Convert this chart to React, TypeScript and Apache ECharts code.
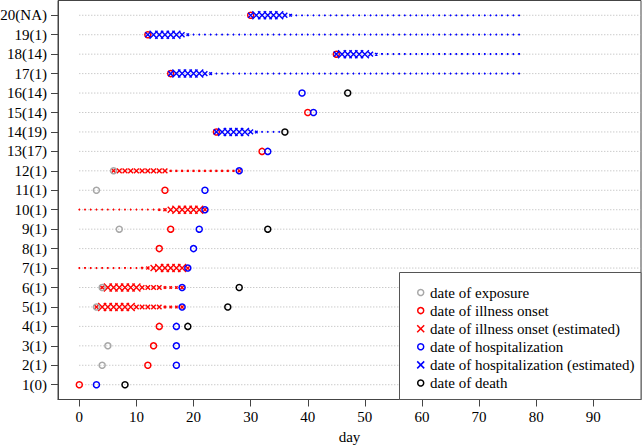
import React, { useEffect, useRef } from "react";
import * as echarts from "echarts";

// ---------- data ----------
const rowLabels = [
  "1(0)", "2(1)", "3(1)", "4(1)", "5(1)", "6(1)", "7(1)", "8(1)", "9(1)", "10(1)",
  "11(1)", "12(1)", "13(17)", "14(19)", "15(14)", "16(14)", "17(1)", "18(14)", "19(1)", "20(NA)",
];
const rowIds = [1, 2, 3, 4, 5, 6, 7, 8, 9, 10, 11, 12, 13, 14, 15, 16, 17, 18, 19, 20];
const xTicks = [0, 10, 20, 30, 40, 50, 60, 70, 80, 90];

// [day, row]
const exposureDays = [[4, 2], [5, 3], [3, 5], [4, 6], [7, 9], [3, 11], [6, 12]];
const onsetDays = [
  [0, 1], [12, 2], [13, 3], [14, 4], [14, 8], [16, 9], [15, 11], [32, 13], [24, 14],
  [40, 15], [16, 17], [45, 18], [12, 19], [30, 20],
];
const hospDays = [
  [3, 1], [17, 2], [17, 3], [17, 4], [18, 5], [18, 6], [19, 7], [20, 8], [21, 9],
  [22, 10], [22, 11], [28, 12], [33, 13], [41, 15], [39, 16],
];
const deathDays = [[8, 1], [19, 4], [26, 5], [28, 6], [33, 9], [36, 14], [47, 16]];

// estimated dates: row, first day, run-length list of [relative weight, number of days]
const onsetEstimated = [
  { row: 5, first: 3, runs: [[0.5, 1], [1, 6], [0.5, 5], [0.2, 3], [0.35, 1]] },
  { row: 6, first: 4, runs: [[0.5, 1], [1, 6], [0.5, 4], [0.2, 3], [0.35, 1]] },
  { row: 7, first: 0, runs: [[0.03, 11], [0.15, 1], [0.3, 1], [0.7, 1], [1, 5], [0.4, 1]] },
  { row: 10, first: 0, runs: [[0.03, 14], [0.15, 1], [0.3, 1], [0.7, 1], [1, 5], [0.4, 1]] },
  { row: 12, first: 6, runs: [[0.5, 1], [0.55, 9], [0.13, 12], [0.3, 1]] },
];
const hospEstimated = [
  { row: 14, first: 24, runs: [[0.6, 1], [1, 5], [0.55, 1], [0.22, 1], [0.03, 4]] },
  { row: 17, first: 16, runs: [[0.6, 1], [1, 5], [0.55, 1], [0.22, 1], [0.03, 54]] },
  { row: 18, first: 45, runs: [[0.6, 1], [1, 5], [0.55, 1], [0.22, 1], [0.03, 25]] },
  { row: 19, first: 12, runs: [[0.6, 1], [1, 5], [0.55, 1], [0.22, 1], [0.03, 58]] },
  { row: 20, first: 30, runs: [[0.6, 1], [1, 5], [0.55, 1], [0.22, 1], [0.03, 40]] },
];

const legendItems = [
  { label: "date of exposure", kind: "circle", color: "#a8a8a8" },
  { label: "date of illness onset", kind: "circle", color: "#ff0000" },
  { label: "date of illness onset (estimated)", kind: "x", color: "#ff0000" },
  { label: "date of hospitalization", kind: "circle", color: "#0000ff" },
  { label: "date of hospitalization (estimated)", kind: "x", color: "#0000ff" },
  { label: "date of death", kind: "circle", color: "#000000" },
];

// ---------- helpers ----------
const FONT = "Liberation Serif";
const X_PATH = "path://M0,0L10,10M10,0L0,10";
const X_MIN = -3.73;
const X_MAX = 98.35;
const AXIS_GREY = "#444444";

function expand(list: { row: number; first: number; runs: number[][] }[]) {
  const out: number[][] = [];
  list.forEach((e) => {
    let d = e.first;
    e.runs.forEach(([w, n]) => {
      for (let i = 0; i < n; i++) out.push([d++, e.row, w]);
    });
  });
  return out;
}

const circleSeries = (name: string, data: number[][], color: string) => ({
  name,
  type: "scatter",
  data,
  symbol: "circle",
  symbolSize: 6,
  itemStyle: { color: "rgba(0,0,0,0)", borderColor: color, borderWidth: 1.5, opacity: 1 },
  silent: true,
});

const xSeries = (name: string, data: number[][], color: string) => ({
  name,
  type: "scatter",
  data,
  symbol: X_PATH,
  symbolSize: (v: number[]) => 1 + 7 * v[2],
  itemStyle: { color: "rgba(0,0,0,0)", borderColor: color, borderWidth: 1.4, opacity: 1 },
  silent: true,
});

function buildLegend() {
  const left = 399.5;
  const top = 272.5;
  const els: any[] = [
    {
      type: "rect",
      shape: { x: left, y: top, width: 241.5, height: 127 },
      style: { fill: "#ffffff", stroke: "#555555", lineWidth: 1 },
      z: 100,
    },
  ];
  legendItems.forEach((it, i) => {
    const cy = 292.5 + i * 18.1;
    const cx = 420.7;
    if (it.kind === "circle") {
      els.push({
        type: "circle",
        shape: { cx, cy, r: 3 },
        style: { fill: "none", stroke: it.color, lineWidth: 1.5 },
        z: 101,
      });
    } else {
      els.push({
        type: "line",
        shape: { x1: cx - 3.5, y1: cy - 3.5, x2: cx + 3.5, y2: cy + 3.5 },
        style: { stroke: it.color, lineWidth: 1.5 },
        z: 101,
      });
      els.push({
        type: "line",
        shape: { x1: cx - 3.5, y1: cy + 3.5, x2: cx + 3.5, y2: cy - 3.5 },
        style: { stroke: it.color, lineWidth: 1.5 },
        z: 101,
      });
    }
    els.push({
      type: "text",
      x: 430,
      y: cy,
      style: {
        text: it.label,
        fill: "#000000",
        fontSize: 15,
        fontFamily: FONT,
        verticalAlign: "middle",
        align: "left",
      },
      z: 101,
    });
  });
  return els;
}

export default function App() {
  const ref = useRef<HTMLDivElement>(null);

  useEffect(() => {
    if (!ref.current) return;
    const chart = echarts.init(ref.current, null, { renderer: "svg" });
    const option: any = {
      animation: false,
      backgroundColor: "#ffffff",
      grid: {
        left: 58,
        right: 3,
        top: 0.5,
        bottom: 45.5,
        outerBoundsMode: "none",
        containLabel: false,
        show: true,
        borderColor: AXIS_GREY,
        borderWidth: 1,
        backgroundColor: "rgba(0,0,0,0)",
      },
      xAxis: {
        type: "value",
        min: X_MIN,
        max: X_MAX,
        axisLine: { show: true, onZero: false, lineStyle: { color: AXIS_GREY, width: 1 } },
        splitLine: { show: false },
        axisTick: { show: true, length: 7, lineStyle: { color: AXIS_GREY, width: 1 }, customValues: xTicks },
        axisLabel: {
          customValues: xTicks,
          fontSize: 15,
          fontFamily: FONT,
          color: "#000000",
          margin: 10,
        },
        name: "day",
        nameLocation: "middle",
        nameGap: 29,
        nameTextStyle: { fontSize: 15, fontFamily: FONT, color: "#000000" },
      },
      yAxis: {
        type: "value",
        min: 0.24,
        max: 20.76,
        axisLine: { show: true, onZero: false, lineStyle: { color: AXIS_GREY, width: 1 } },
        splitLine: { show: false },
        axisTick: { show: true, inside: false, length: 7, lineStyle: { color: AXIS_GREY, width: 1 }, customValues: rowIds },
        axisLabel: {
          customValues: rowIds,
          formatter: (v: number) => rowLabels[Math.round(v) - 1],
          fontSize: 15,
          fontFamily: FONT,
          color: "#000000",
          margin: 11,
        },
      },
      series: [
        {
          type: "custom",
          silent: true,
          data: rowIds.map((r) => [0, r]),
          renderItem: (_p: any, api: any) => {
            const r = api.value(1);
            const a = api.coord([0, r]);
            const b = api.coord([X_MAX, r]);
            return {
              type: "line",
              shape: { x1: a[0], y1: a[1], x2: b[0], y2: b[1] },
              style: { stroke: "#b4b4b4", lineWidth: 1, lineDash: [1, 2] },
            };
          },
        },
        xSeries("onsetEst", expand(onsetEstimated), "#ff0000"),
        circleSeries("exposure", exposureDays, "#a8a8a8"),
        circleSeries("onset", onsetDays, "#ff0000"),
        xSeries("hospEst", expand(hospEstimated), "#0000ff"),
        circleSeries("hosp", hospDays, "#0000ff"),
        circleSeries("death", deathDays, "#000000"),
      ],
      graphic: buildLegend(),
    };
    chart.setOption(option);
    return () => chart.dispose();
  }, []);

  return (
    <div
      ref={ref}
      style={{ position: "absolute", left: 0, top: 0, width: 644, height: 445 }}
    />
  );
}
